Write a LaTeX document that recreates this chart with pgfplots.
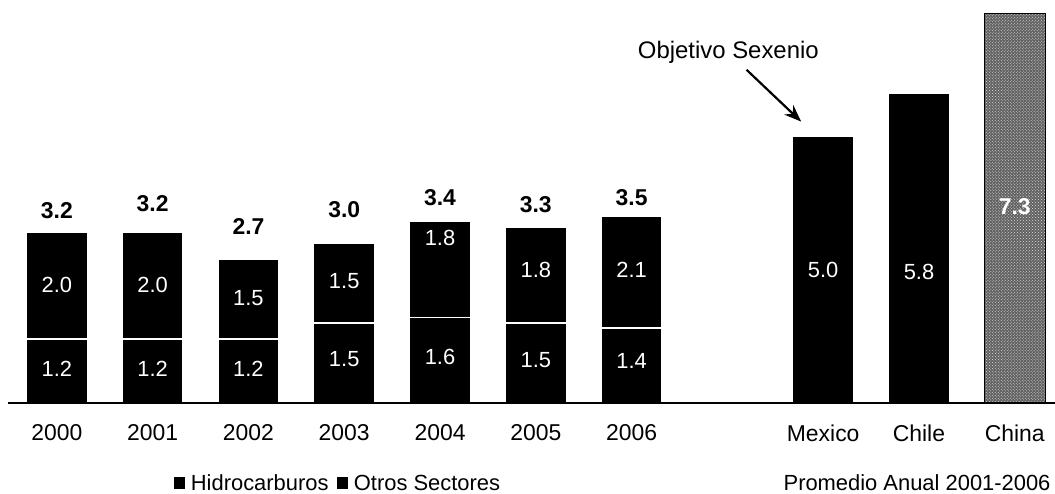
\documentclass[border=0pt]{standalone}
\usepackage{pgfplots}
\pgfplotsset{compat=1.18}
\usepackage{fontspec}
\setmainfont{Liberation Sans}
\usetikzlibrary{patterns,arrows.meta}
\begin{document}
\begin{tikzpicture}
\begin{axis}[
  scale only axis, width=1047bp, height=403bp,
  xmin=-0.51, xmax=10.42, ymin=0, ymax=7.547,
  axis x line=bottom, axis y line=none,
  x axis line style={-, line width=2.5bp},
  axis on top=true,
  xtick={0,1,2,3,4,5,6,8,9,10},
  xticklabels={2000,2001,2002,2003,2004,2005,2006,Mexico,Chile,China},
  major tick length=0pt,
  xticklabel style={font=\fontsize{23}{27}\selectfont, yshift=-18bp},
  ybar, bar width=61bp, bar shift=0pt,
  clip=false,
  legend style={at={(0.315,-0.199)}, anchor=center, draw=none, fill=none,
    legend columns=2, font=\fontsize{22}{26}\selectfont,
    /tikz/every even column/.append style={column sep=6bp}},
  legend image code/.code={\fill[black] (0bp,-5bp) rectangle (10bp,6bp); \path (15bp,0bp);},
]
\addlegendimage{black}\addlegendentry{Hidrocarburos}
\addlegendimage{black}\addlegendentry{Otros Sectores}
% totals (Otros Sectores on top of Hidrocarburos) and Mexico, Chile
\addplot[fill=black, draw=white, line width=1.5bp, forget plot] coordinates {
  (0,3.2) (1,3.2) (2,2.7) (3,3.0) (4,3.4) (5,3.3) (6,3.5) (8,5.0) (9,5.8)};
% Hidrocarburos
\addplot[fill=black, draw=white, line width=1.5bp, forget plot] coordinates {
  (0,1.2) (1,1.2) (2,1.2) (3,1.5) (4,1.6) (5,1.5) (6,1.4)};
% China
\addplot[fill=black!62, draw=black, line width=1bp,
  postaction={pattern=crosshatch dots, pattern color=white!75!gray}, forget plot]
  coordinates {(10,7.3)};
% top labels
\begin{scope}[every node/.style={font=\fontsize{23}{27}\selectfont\bfseries}]
\node at (axis cs:0,3.60) {3.2};
\node at (axis cs:1,3.73) {3.2};
\node at (axis cs:2,3.30) {2.7};
\node at (axis cs:3,3.63) {3.0};
\node at (axis cs:4,3.84) {3.4};
\node at (axis cs:5,3.71) {3.3};
\node at (axis cs:6,3.84) {3.5};
\end{scope}
\begin{scope}[every node/.style={font=\fontsize{22}{26}\selectfont, text=white}]
\node at (axis cs:0,2.21) {2.0};
\node at (axis cs:1,2.21) {2.0};
\node at (axis cs:2,1.97) {1.5};
\node at (axis cs:3,2.28) {1.5};
\node at (axis cs:4,3.09) {1.8};
\node at (axis cs:5,2.49) {1.8};
\node at (axis cs:6,2.49) {2.1};
\node at (axis cs:0,0.64) {1.2};
\node at (axis cs:1,0.64) {1.2};
\node at (axis cs:2,0.64) {1.2};
\node at (axis cs:3,0.82) {1.5};
\node at (axis cs:4,0.86) {1.6};
\node at (axis cs:5,0.81) {1.5};
\node at (axis cs:6,0.79) {1.4};
\node at (axis cs:8,2.49) {5.0};
\node at (axis cs:9,2.45) {5.8};
\node[font=\fontsize{23}{27}\selectfont\bfseries] at (axis cs:10,3.67) {7.3};
\end{scope}
\node[font=\fontsize{24}{28}\selectfont] at (axis cs:7.01,6.56) {Objetivo Sexenio};
\draw[line width=2.2bp, -{Stealth[length=17bp,width=13bp]}] (axis cs:7.20,6.24) -- (axis cs:7.77,5.27);
\end{axis}
\node[anchor=east, font=\fontsize{22}{26}\selectfont] at (1046bp,-80bp) {Promedio Anual 2001-2006};
\pgfresetboundingbox
\path (-8bp,-91bp) rectangle (1047bp,403bp);
\end{tikzpicture}
\end{document}
